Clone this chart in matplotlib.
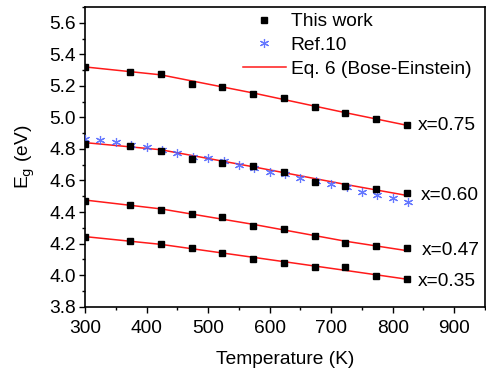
import matplotlib
matplotlib.use("Agg")
import matplotlib.pyplot as plt
from matplotlib.ticker import MultipleLocator

plt.rcParams['font.family'] = ['Liberation Sans', 'DejaVu Sans']

# Measured band gaps (this work)
temps = [300, 373, 423, 473, 523, 573, 623, 673, 723, 773, 823]
eg_075 = [5.32, 5.29, 5.275, 5.21, 5.19, 5.148, 5.123, 5.067, 5.03, 4.99, 4.95]
eg_060 = [4.831, 4.82, 4.79, 4.736, 4.709, 4.694, 4.655, 4.588, 4.565, 4.546, 4.518]
eg_047 = [4.472, 4.445, 4.415, 4.387, 4.37, 4.311, 4.29, 4.248, 4.202, 4.187, 4.17]
eg_035 = [4.244, 4.218, 4.195, 4.172, 4.138, 4.102, 4.079, 4.053, 4.05, 3.995, 3.974]

# Ref.10 data for x=0.60
ref_temps = [300, 325, 350, 375, 400, 425, 450, 475, 500, 525, 550,
             575, 600, 625, 650, 675, 700, 725, 750, 775, 800, 825]
ref_eg = [4.866, 4.856, 4.844, 4.825, 4.81, 4.793, 4.776, 4.75, 4.74, 4.723, 4.698,
          4.677, 4.656, 4.641, 4.614, 4.598, 4.578, 4.557, 4.529, 4.508, 4.487, 4.462]

# Eq. 6 (Bose-Einstein) fitted curves
fit_temps = [300, 423, 573, 723, 823]
fit_075 = [5.32, 5.27, 5.155, 5.03, 4.95]
fit_060 = [4.84, 4.795, 4.687, 4.575, 4.505]
fit_047 = [4.476, 4.42, 4.322, 4.215, 4.155]
fit_035 = [4.244, 4.195, 4.113, 4.03, 3.974]

labels = ["x=0.75", "x=0.60", "x=0.47", "x=0.35"]

FS = 13.8

fig = plt.figure(figsize=(4.86, 3.69), dpi=100)
ax = fig.add_axes([0.175, 0.169, 0.823, 0.812])

red = '#ff1a1a'
blue = '#4a60ff'
sq = dict(marker='s', linestyle='none', color='black', markersize=4.0)
ast = dict(linestyle='none', marker=(6, 2, 0), markersize=6.5,
           markeredgewidth=0.85, color=blue, alpha=0.85)

for fit in (fit_075, fit_060, fit_047, fit_035):
    ax.plot(fit_temps, fit, color=red, lw=1.1, zorder=2)

ax.plot(ref_temps, ref_eg, zorder=3, **ast)

for eg in (eg_075, eg_060, eg_047, eg_035):
    ax.plot(temps, eg, zorder=4, **sq)

# legend handles
h_sq, = ax.plot([], [], **sq)
h_ref, = ax.plot([], [], **ast)
h_fit, = ax.plot([], [], color=red, lw=1.1)
ax.legend([h_sq, h_ref, h_fit], ["This work", "Ref.10", "Eq. 6 (Bose-Einstein)"],
          loc='upper left', bbox_to_anchor=(0.375, 1.006), frameon=False,
          fontsize=FS, handlelength=2.25, handletextpad=0.25, labelspacing=0.33,
          numpoints=1, borderaxespad=0)

label_pos = [(826, 4.95), (826, 4.505), (826, 4.155), (826, 3.96)]
label_dx = [14, 19, 22, 14]
for (tx, ty), dx, lab in zip(label_pos, label_dx, labels):
    ax.text(tx + dx, ty, lab, fontsize=FS, va='center', ha='left')

ax.set_xlim(300, 950)
ax.set_ylim(3.8, 5.7)
ax.xaxis.set_major_locator(MultipleLocator(100))
ax.xaxis.set_minor_locator(MultipleLocator(50))
ax.yaxis.set_major_locator(MultipleLocator(0.2))
ax.yaxis.set_minor_locator(MultipleLocator(0.1))
ax.tick_params(which='both', direction='out', top=False, right=False,
               labelsize=FS, width=1.0)
ax.tick_params(axis='x', pad=5)
ax.tick_params(axis='y', pad=2)
ax.tick_params(which='major', length=4.5)
ax.tick_params(which='minor', length=2.5)
for s in ax.spines.values():
    s.set_linewidth(1.2)

ax.set_xlabel("Temperature (K)", fontsize=FS, labelpad=10)
ax.set_ylabel(r"E$_\mathrm{g}$ (eV)", fontsize=FS)
ax.yaxis.set_label_coords(-0.12, 0.5)

fig.savefig("out.png", dpi=100)
